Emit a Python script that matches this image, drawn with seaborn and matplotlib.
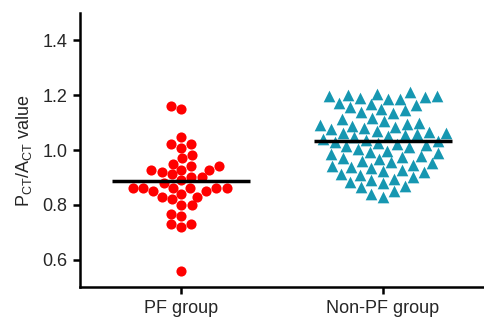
import numpy as np
import pandas as pd
import seaborn as sns
import matplotlib.pyplot as plt

sns.set_style('ticks')
plt.rcParams['font.family'] = ['Liberation Sans', 'DejaVu Sans']
plt.rcParams['mathtext.fontset'] = 'custom'
plt.rcParams['mathtext.rm'] = 'Liberation Sans'

# values
groups = ['PF group', 'Non-PF group']
pf_values = [1.149, 1.161, 1.049, 1.021, 1.008, 1.021, 0.981, 0.970, 0.951,
             0.929, 0.941, 0.941, 0.920, 0.929, 0.929, 0.900, 0.892, 0.900,
             0.912, 0.851, 0.862, 0.862, 0.862, 0.862, 0.880, 0.851, 0.862,
             0.862, 0.839, 0.829, 0.820, 0.829, 0.798, 0.798, 0.759, 0.768,
             0.731, 0.719, 0.731, 0.559]
nonpf_values = [1.212, 1.205, 1.200, 1.198, 1.196, 1.192, 1.190, 1.188, 1.186,
                1.172, 1.168, 1.164, 1.158, 1.150, 1.146, 1.140, 1.134,
                1.118, 1.112, 1.106, 1.100, 1.096, 1.092, 1.088, 1.084,
                1.080, 1.076,
                1.070, 1.066, 1.064, 1.062, 1.058, 1.054, 1.050, 1.046,
                1.042, 1.038, 1.034, 1.030, 1.026, 1.022, 1.018, 1.014,
                1.010,
                1.004, 0.998, 0.994, 0.990, 0.985, 0.980, 0.975, 0.970,
                0.966, 0.962, 0.957, 0.952,
                0.947, 0.942, 0.938, 0.934, 0.929, 0.924, 0.919, 0.914,
                0.910, 0.900,
                0.895, 0.890, 0.885, 0.880, 0.870, 0.865,
                0.850, 0.840, 0.830]
colors = ['#ff0000', '#1697b1']
markers = ['o', '^']
sizes = [7.3, 8.4]

df = pd.DataFrame({
    'group': [groups[0]] * len(pf_values) + [groups[1]] * len(nonpf_values),
    'value': pf_values + nonpf_values,
})

fig = plt.figure(figsize=(4.84, 3.27), dpi=100)
ax = fig.add_axes([0.165, 0.122, 0.835, 0.838])

for i, g in enumerate(groups):
    sub = df[df['group'] == g]
    sns.swarmplot(data=sub, x='group', y='value', order=groups, ax=ax,
                  color=colors[i], marker=markers[i], size=sizes[i],
                  linewidth=0, zorder=2, warn_thresh=1)
    ax.hlines(sub['value'].mean(), i - 0.34, i + 0.34, color='black',
              linewidth=2.5, zorder=3)

ax.set_xlim(-0.5, 1.5)
ax.set_ylim(0.5, 1.5)
ax.set_yticks([0.6, 0.8, 1.0, 1.2, 1.4])
ax.set_yticklabels(['0.6', '0.8', '1.0', '1.2', '1.4'])
ax.set_xlabel('')
ax.set_ylabel(r'P$_{\mathrm{CT}}$/A$_{\mathrm{CT}}$ value', fontsize=13,
              color='#262626', labelpad=6)
sns.despine(ax=ax)
for s in ['left', 'bottom']:
    ax.spines[s].set_linewidth(1.8)
    ax.spines[s].set_color('black')
ax.tick_params(axis='both', length=5, width=1.8, color='black',
               labelsize=13, labelcolor='#262626', pad=4)

fig.savefig('out.png', dpi=100)
